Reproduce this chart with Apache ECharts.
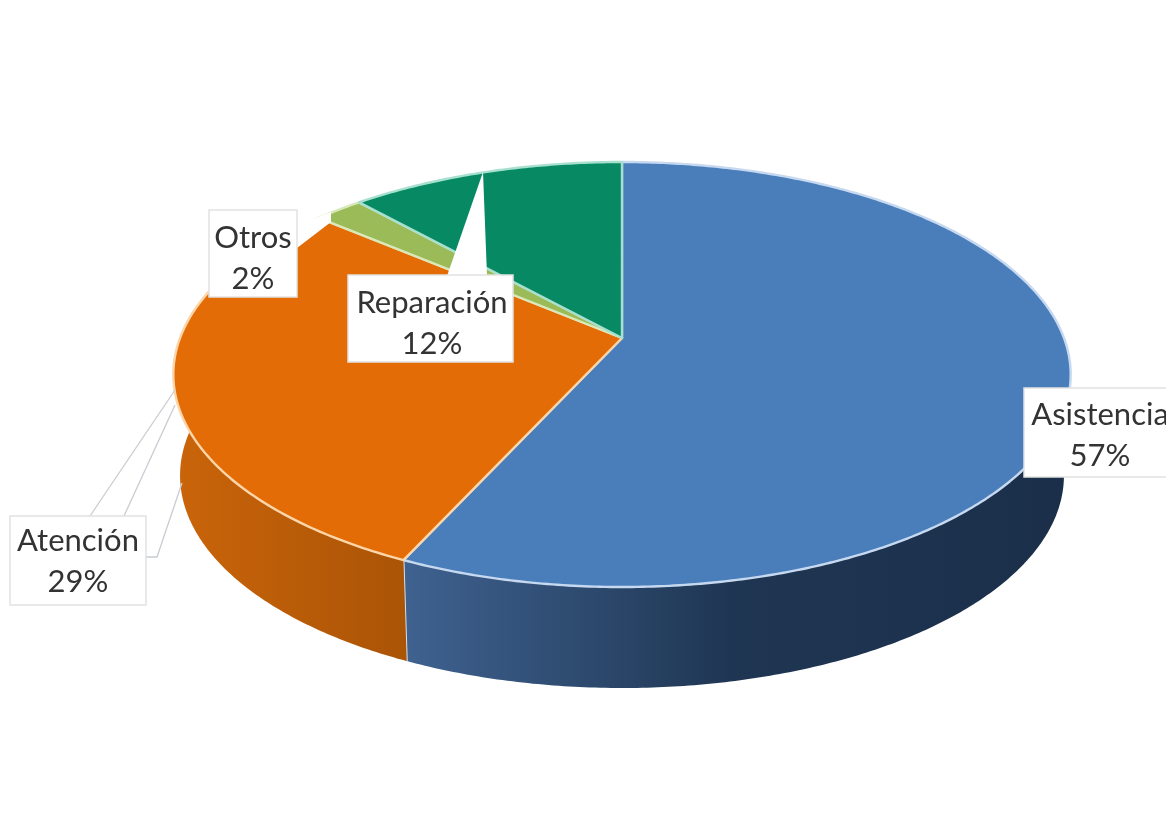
<!DOCTYPE html>
<html>
<head>
<meta charset="utf-8">
<style>html,body{margin:0;padding:0;background:#fff}#c{width:1166px;height:818px}</style>
<script src="https://cdn.jsdelivr.net/npm/echarts@6/dist/echarts.min.js"></script>
</head>
<body>
<div id="c"></div>
<script>
// Data
var categories = ['Asistencia', 'Atención', 'Otros', 'Reparación'];
var values = [56.85, 29.35, 2.1, 11.7];

// Styles
var topColors = ['#4a7ebb', '#e36c06', '#9bbb59', '#078a63'];
var rimColors = ['#c6d9f0', '#fcd5a8', '#d8e8b8', '#a8e0d0'];
var sideStops = [
  [[0, '#3f6290'], [0.5, '#1f3653'], [1, '#1b2f4a']],
  [[0, '#c9640a'], [1, '#aa5406']],
  [[0, '#6f8a3e'], [1, '#6f8a3e']],
  [[0, '#05604a'], [1, '#05604a']]
];
var sideRange = [[404, 1060], [180, 408], [180, 400], [180, 620]];

// Projection of the disc into the picture
var view = {cx: 622, apexY: 338, topY: 162, bottomY: 587, radiusX: 442, depth: 101, baseScale: 0.985};
var persp = (function () {
  var a = view.topY, b = view.bottomY, m = view.apexY;
  var c = (2 * m - a - b) / (b - a);
  var k = b * (1 + c) - m;
  return {c: c, k: k};
})();
function rim(theta) {
  var u = Math.sin(theta), v = -Math.cos(theta), w = 1 + persp.c * v;
  return [view.cx + view.radiusX * u / w, (persp.k * v + view.apexY) / w];
}
function base(theta) {
  var p = rim(theta);
  return [view.cx + (p[0] - view.cx) * view.baseScale, p[1] + view.depth];
}
var total = values.reduce(function (s, v) { return s + v; }, 0);
function angleAt(sum) { return sum / total * Math.PI * 2; }
function sliceAngles(i) {
  var s = 0;
  for (var j = 0; j < i; j++) s += values[j];
  return [angleAt(s), angleAt(s + values[i])];
}
function arc(fn, a0, a1) {
  var pts = [], n = Math.max(2, Math.ceil((a1 - a0) / 0.01));
  for (var i = 0; i <= n; i++) pts.push(fn(a0 + (a1 - a0) * i / n));
  return pts;
}

// Callouts layout
var boxes = [
  {x: 1024, y: 388, w: 150, h: 89, tx: 1100, ty: 415},
  {x: 10, y: 516, w: 136, h: 89, tx: 78, ty: 541,
    lines: [[[90, 516], [175, 390]], [[124, 516], [175, 405]], [[146, 557], [157, 557], [182, 483]]]},
  {x: 209, y: 210, w: 88, h: 87, tx: 253, ty: 238, wedge: [[297, 225], [331, 212], [331, 222], [297, 248]]},
  {x: 348, y: 275, w: 165, h: 87, tx: 432, ty: 303, wedge: [[447, 276], [483, 172], [487, 276]]}
];
var lineGap = 41;

var seriesData = categories.map(function (c, i) { return {name: c, value: values[i]}; });

function renderSide(params) {
  var i = params.dataIndex, a = sliceAngles(i);
  var pts = arc(rim, a[0], a[1]).concat(arc(base, a[0], a[1]).reverse());
  var r = sideRange[i];
  var stops = sideStops[i].map(function (s) { return {offset: s[0], color: s[1]}; });
  var kids = [{
    type: 'polygon',
    shape: {points: pts},
    style: {
      fill: new echarts.graphic.LinearGradient(r[0], 0, r[1], 0, stops, true),
      stroke: null
    }
  }];
  if (a[1] > Math.PI / 2 && a[1] < Math.PI * 1.5) {
    kids.push({type: 'polyline', shape: {points: [rim(a[1]), base(a[1])]},
      style: {fill: null, stroke: '#d8dfe8', lineWidth: 2}});
  }
  return {type: 'group', children: kids};
}
function renderTop(params) {
  var i = params.dataIndex, a = sliceAngles(i);
  var pts = [[view.cx, view.apexY]].concat(arc(rim, a[0], a[1]));
  return {
    type: 'polygon',
    shape: {points: pts},
    style: {fill: topColors[i], stroke: rimColors[i], lineWidth: 2.4, lineJoin: 'round'}
  };
}
function renderCallout(params) {
  var i = params.dataIndex, b = boxes[i], kids = [];
  (b.lines || []).forEach(function (l) {
    kids.push({type: 'polyline', shape: {points: l}, style: {fill: null, stroke: '#c8ccd2', lineWidth: 1.3}});
  });
  if (b.wedge) kids.push({type: 'polygon', shape: {points: b.wedge}, style: {fill: '#fff', stroke: null}});
  kids.push({type: 'rect', shape: {x: b.x, y: b.y, width: b.w, height: b.h},
    style: {fill: '#fff', stroke: '#e2e2e2', lineWidth: 1.5}});
  kids.push({type: 'text', style: {
    x: b.tx, y: b.ty, text: categories[i], fill: '#333333',
    font: '400 31px Lato', textAlign: 'center', textVerticalAlign: 'middle'}});
  kids.push({type: 'text', style: {
    x: b.tx, y: b.ty + lineGap, text: Math.round(values[i] / total * 100) + '%', fill: '#333333',
    font: '400 31px Lato', textAlign: 'center', textVerticalAlign: 'middle'}});
  return {type: 'group', children: kids};
}
function custom(fn, z) {
  return {type: 'custom', coordinateSystem: 'none', renderItem: fn, data: seriesData, z: z,
    silent: true, animation: false, clip: false};
}
var chart = echarts.init(document.getElementById('c'), null, {renderer: 'canvas'});
chart.setOption({
  backgroundColor: '#ffffff',
  animation: false,
  series: [custom(renderSide, 1), custom(renderTop, 2), custom(renderCallout, 3)]
});
</script>
</body>
</html>
